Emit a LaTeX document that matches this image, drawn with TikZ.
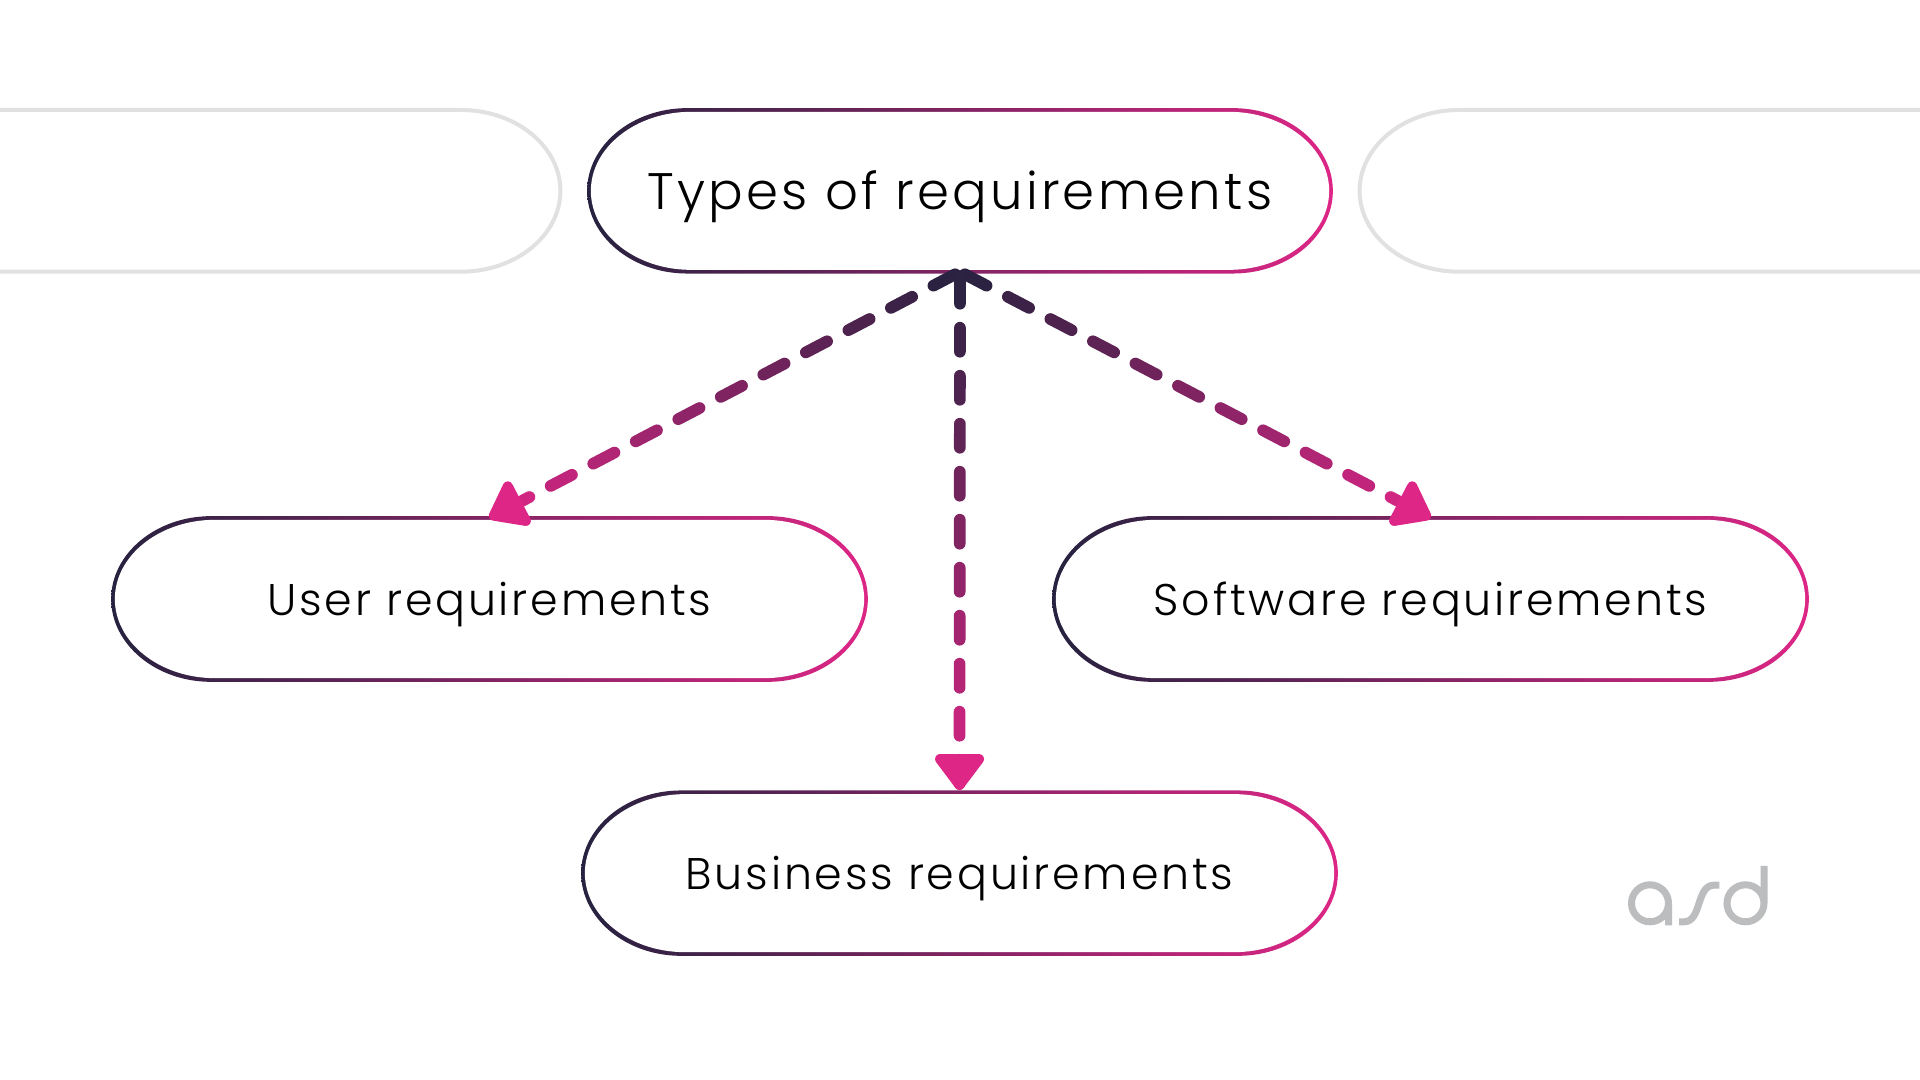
\documentclass[tikz,border=0pt]{standalone}
\usepackage{fontspec}
\setmainfont{Poppins Light}
\newfontfamily\lablarge[LetterSpace=6.3]{Poppins Light}
\usetikzlibrary{calc}
\definecolor{darkc}{HTML}{26223F}
\definecolor{pinkc}{HTML}{DD2686}
\definecolor{ghost}{HTML}{E1E1E1}
\definecolor{logoc}{HTML}{BCBDBF}
\tikzset{
  x=0.01cm,y=-0.01cm,
  pilltext/.style={inner sep=0pt,outer sep=0pt,minimum width=7.55cm,minimum height=1.62cm,text=black},
  bigtext/.style={pilltext,minimum width=7.44cm,minimum height=1.617cm,font=\lablarge\fontsize{14.6pt}{16pt}\selectfont,text height=0.37cm,text depth=0pt},
  smalltext/.style={pilltext,font=\lablarge\fontsize{12.6pt}{14pt}\selectfont,text height=0.32cm,text depth=0pt},
  ghostline/.style={draw=ghost,line width=0.04cm},
  dashseg/.style={line width=0.117cm,line cap=round},
  headtip/.style={fill=pinkc,draw=pinkc,line width=0.1cm,line join=round},
  logostroke/.style={draw=logoc,line width=0.07cm}
}
% pill outline: left, right, top, bottom
\newcommand{\pillshape}[4]{%
  (#1+100,#3) -- (#2-100,#3)
  .. controls (#2-45,#3) and (#2,#3+0.225*#4-0.225*#3) .. (#2,#3/2+#4/2)
  .. controls (#2,#4-0.225*#4+0.225*#3) and (#2-45,#4) .. (#2-100,#4)
  -- (#1+100,#4)
  .. controls (#1+45,#4) and (#1,#4-0.225*#4+0.225*#3) .. (#1,#3/2+#4/2)
  .. controls (#1,#3+0.225*#4-0.225*#3) and (#1+45,#3) .. (#1+100,#3) -- cycle}
% outer pill shaded, inner pill white, so that the outline carries the gradient
\newcommand{\gradpill}[4]{%
  \pgfmathsetmacro{\lo}{#1-1.85}\pgfmathsetmacro{\ro}{#2+1.85}
  \pgfmathsetmacro{\to}{#3-1.85}\pgfmathsetmacro{\bo}{#4+1.85}
  \pgfmathsetmacro{\li}{#1+1.85}\pgfmathsetmacro{\ri}{#2-1.85}
  \pgfmathsetmacro{\ti}{#3+1.85}\pgfmathsetmacro{\bi}{#4-1.85}
  \shade[left color=darkc,right color=pinkc] \pillshape{\lo}{\ro}{\to}{\bo};
  \fill[white] \pillshape{\li}{\ri}{\ti}{\bi};}
% gradient dashed connector: from, to, length, first dash end, first later dash start, last index
\newcommand{\gradconn}[6]{%
  \pgfmathsetmacro{\pa}{(#4/2)/#3*100}
  \draw[dashseg,draw=pinkc!\pa!darkc] ($(#1)!5.5*0.01cm!(#2)$) -- ($(#1)!#4*0.01cm!(#2)$);
  \foreach \k in {0,...,#6}{
    \pgfmathsetmacro{\ds}{#5+48*\k}
    \pgfmathsetmacro{\de}{\ds+24}
    \pgfmathsetmacro{\pc}{min(100,(\ds+12)/#3*100)}
    \draw[dashseg,draw=pinkc!\pc!darkc] ($(#1)!\ds*0.01cm!(#2)$) -- ($(#1)!\de*0.01cm!(#2)$);
  }
  \pgfmathsetmacro{\hbase}{#3-33.3}
  \pgfmathsetmacro{\htip}{#3-7.3}
  \coordinate (hb) at ($(#1)!\hbase*0.01cm!(#2)$);
  \coordinate (hs) at ($(#1)!\htip*0.01cm!(#2)$);
  \coordinate (hl) at ($(hb)!0.195cm!90:(#2)$);
  \coordinate (hr) at ($(hb)!0.195cm!-90:(#2)$);
  \path[headtip] (hl) -- (hs) -- (hr) -- cycle;
}
\begin{document}
\begin{tikzpicture}
\useasboundingbox (0,0) rectangle (1920,1080);
\clip (0,0) rectangle (1920,1080);
\fill[white] (0,0) rectangle (1920,1080);

% faded neighbours
\draw[ghostline] (-20,110) -- (461,110) .. controls (516,110) and (560.4,146.4) .. (560.4,190.85)
  .. controls (560.4,235.3) and (516,271.7) .. (461,271.7) -- (-20,271.7);
\draw[ghostline] (1940,110) -- (1459,110) .. controls (1404,110) and (1359.6,146.4) .. (1359.6,190.85)
  .. controls (1359.6,235.3) and (1404,271.7) .. (1459,271.7) -- (1940,271.7);

% pills
\gradpill{589}{1331}{110}{271.7}
\gradpill{113}{866}{518}{680}
\gradpill{1054}{1807}{518}{680}
\gradpill{583}{1336}{792.3}{954}

\node[bigtext] (top) at (960,190.85) {Types of requirements};
\node[smalltext] (user) at (489.5,599) {User requirements};
\node[smalltext] (soft) at (1430.5,599) {Software requirements};
\node[smalltext] (biz) at (959.5,873.15) {Business requirements};

% connectors
\gradconn{top.south}{user.north}{533.5}{30}{54}{9}
\gradconn{top.south}{soft.north}{533.5}{30}{54}{9}
\gradconn{top.south}{biz.north}{520.6}{32}{56}{9}

% logo
\draw[logostroke] (1668.5,925.3) -- (1668.5,903.3) arc[start angle=0,end angle=360,radius=18.5];
\draw[logostroke] (1679,921.8) -- (1684,921.8) .. controls (1702,921.8) and (1696,885.2) .. (1714,885.2) -- (1719.3,885.2);
\draw[logostroke] (1764,866) -- (1764,903.3) arc[start angle=0,end angle=360,radius=18.5];
\end{tikzpicture}
\end{document}
